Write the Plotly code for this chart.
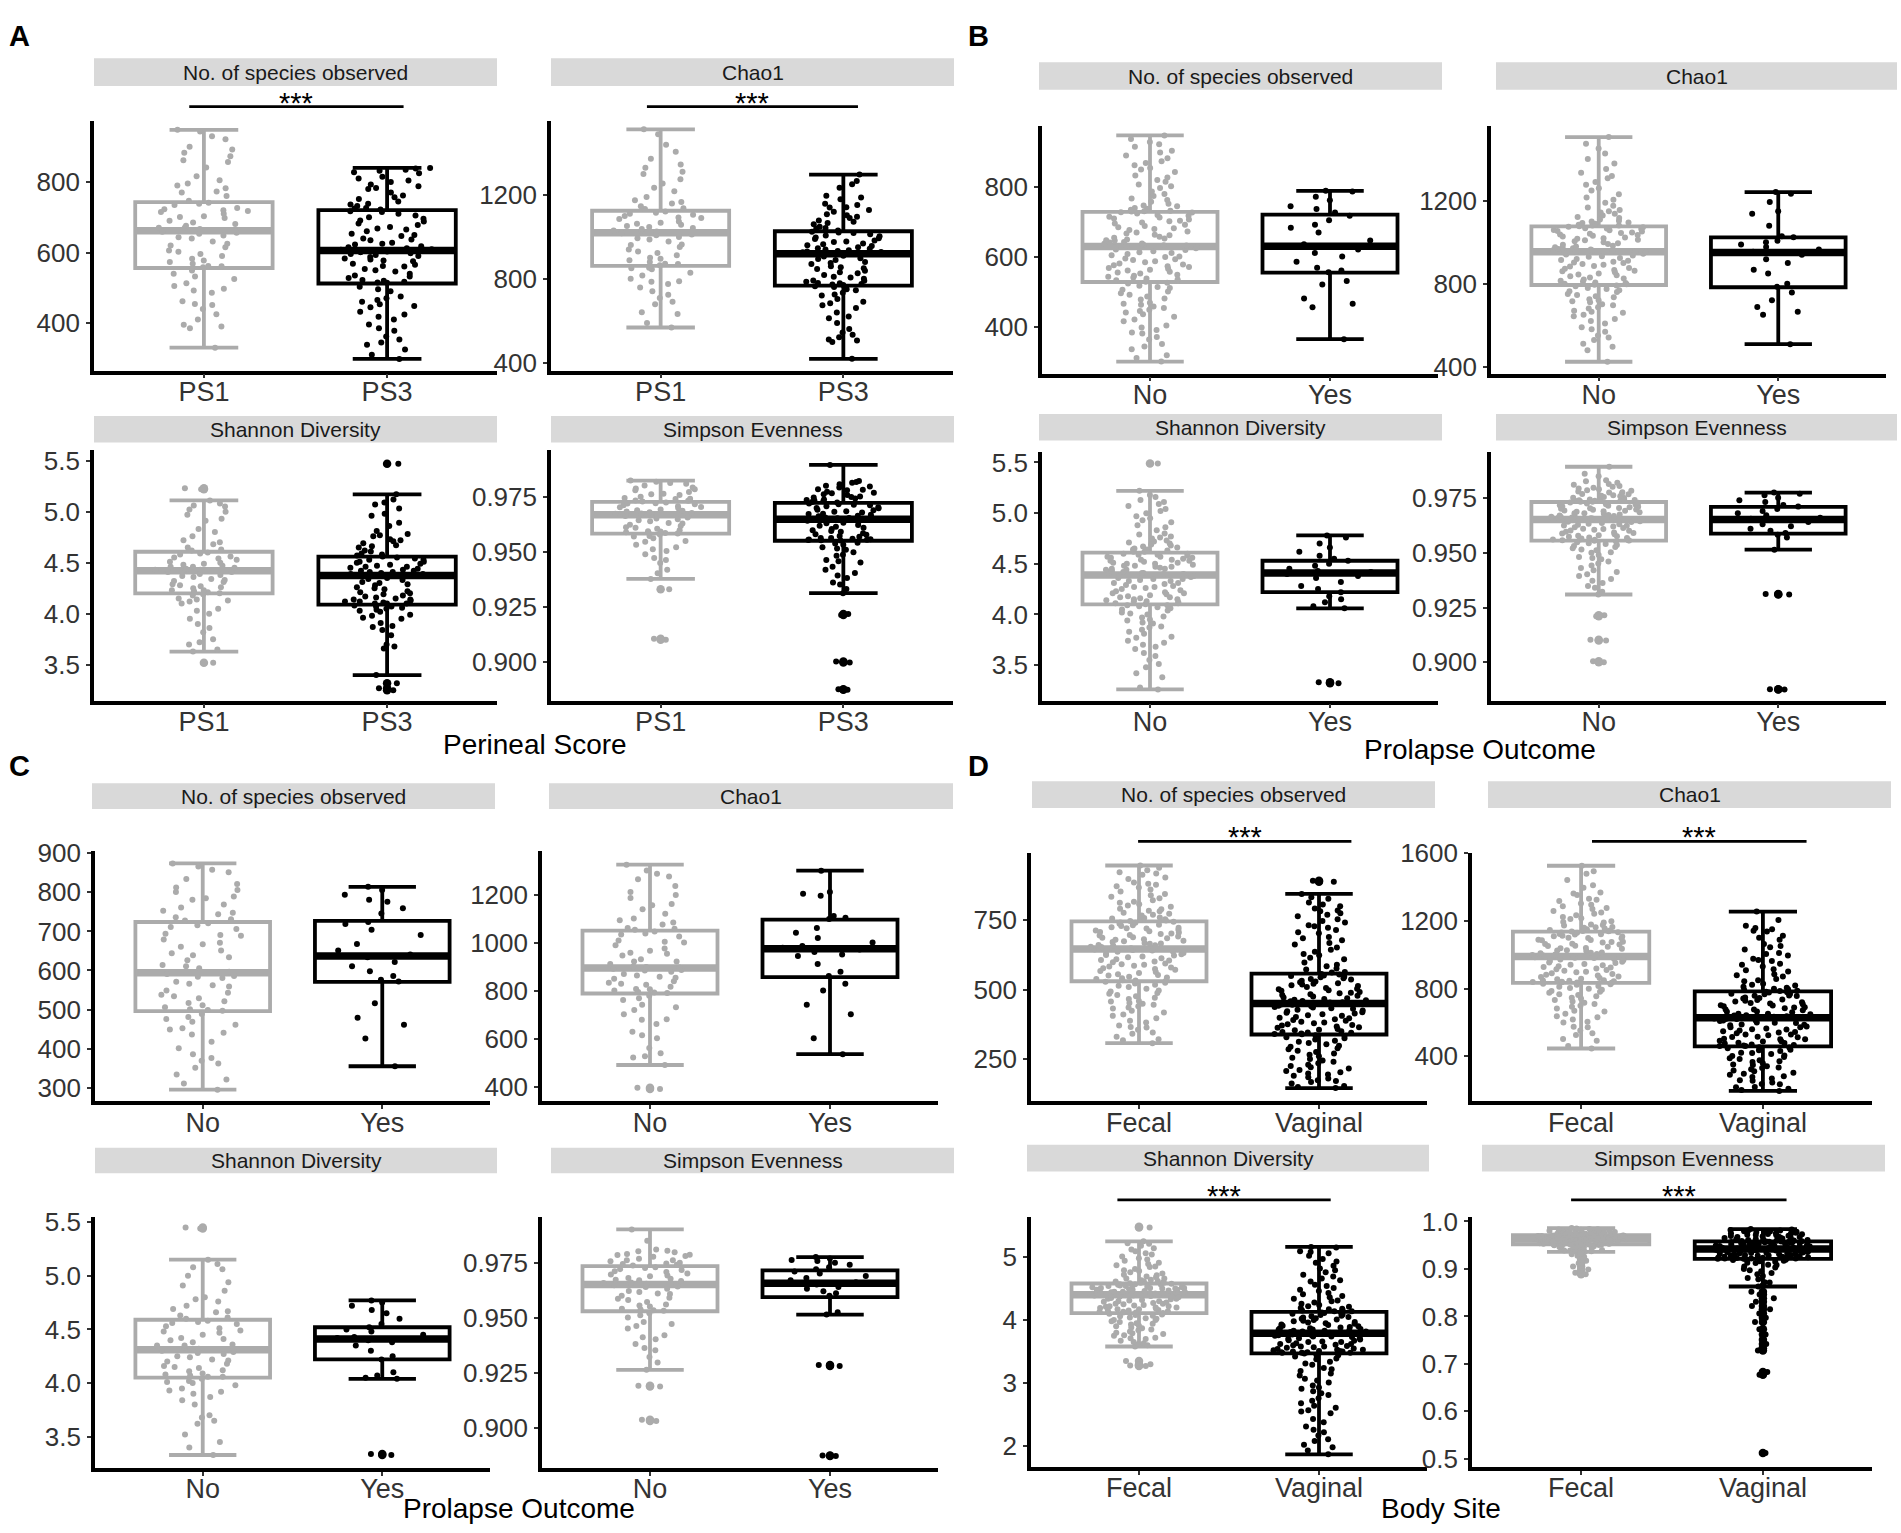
import plotly.graph_objects as go

W, H = 1901, 1533
GRAY = "#ABABAB"
BLACK = "#000000"
FONT = "Liberation Sans, Arial, sans-serif"

# ---------------- A: Perineal Score ----------------
a_groups = ["PS1", "PS3"]

a_obs_ps1 = [949, 944, 931, 922, 893, 884, 874, 863, 842, 806, 797, 791, 783, 774, 761,
             742, 736, 727, 724, 719, 716, 711, 704, 699, 691, 682, 677, 671, 668, 664,
             660, 654, 649, 641, 632, 626, 616, 607, 597, 591, 583, 574, 569, 562, 559,
             550, 541, 526, 514, 506, 493, 487, 463, 455, 441, 426, 396, 391, 386, 331,
             901, 858, 817, 771, 748, 739, 721, 702, 686, 671, 657, 644, 621, 603, 578, 563, 533, 498, 452, 411]
a_obs_ps3 = [841, 839, 836, 833, 829, 816, 811, 801, 794, 789, 781, 771, 763, 753, 746, 739, 733, 727, 723,
             718, 711, 706, 701, 692, 689, 679, 673, 666, 661, 654, 648, 641, 636, 629, 624, 619, 613, 609,
             605, 602, 597, 594, 591, 584, 581, 576, 569, 566, 561, 554, 547, 541, 536, 529, 523, 518, 515,
             504, 491, 476, 466, 461, 454, 446, 433, 419, 411, 397, 379, 363, 354, 346, 326, 311, 299,
             826, 805, 784, 758, 737, 726, 716, 697, 683, 669, 651, 638, 626, 616, 610, 604, 599, 588, 578, 563,
             551, 533, 521, 516, 497, 471, 449, 425, 386, 339]
a_obs_ps1_box = [331, 557, 663, 744, 949]   # lower whisker, q1, median, q3, upper whisker
a_obs_ps3_box = [299, 513, 607, 721, 841]
a_obs_ps1_out = []
a_obs_ps3_out = []

a_chao_ps1 = [1515, 1491, 1441, 1374, 1347, 1331, 1302, 1277, 1256, 1219, 1191, 1168, 1161, 1147, 1134,
              1122, 1116, 1107, 1101, 1091, 1086, 1074, 1069, 1059, 1053, 1044, 1039, 1031, 1027, 1023,
              1018, 1009, 1001, 989, 979, 964, 953, 941, 924, 913, 901, 889, 881, 871, 866,
              854, 846, 829, 816, 801, 789, 776, 759, 741, 709, 691, 679, 641, 589, 568,
              1408, 1312, 1236, 1176, 1138, 1112, 1094, 1064, 1048, 1029, 1012, 994, 962, 931, 897, 873, 851, 786, 725, 633]
a_chao_ps3 = [1299, 1268, 1236, 1197, 1181, 1159, 1153, 1141, 1129, 1121, 1109, 1097, 1091, 1079, 1073, 1061, 1049, 1041, 1032,
              1026, 1019, 1013, 1004, 998, 991, 984, 979, 969, 966, 957, 951, 944, 941, 934, 931, 927, 924, 921,
              916, 907, 899, 891, 881, 871, 861, 856, 847, 839, 827, 819, 807, 801, 791, 786, 779, 776, 771,
              761, 751, 746, 734, 721, 704, 691, 674, 661, 639, 621, 589, 561, 544, 521, 506, 499, 418,
              1252, 1189, 1143, 1104, 1067, 1043, 1022, 1008, 994, 976, 961, 947, 937, 929, 922, 911, 895, 876, 851, 832,
              811, 793, 781, 773, 765, 726, 684, 612, 533, 511]
a_chao_ps1_box = [568, 862, 1021, 1126, 1515]
a_chao_ps3_box = [418, 768, 920, 1028, 1299]
a_chao_ps1_out = []
a_chao_ps3_out = []

a_shan_ps1 = [5.23, 5.22, 5.11, 5.08, 5.05, 5.02, 5.00, 4.97, 4.93, 4.80, 4.76, 4.70, 4.68, 4.65, 4.62,
              4.60, 4.58, 4.56, 4.55, 4.53, 4.51, 4.50, 4.48, 4.47, 4.46, 4.45, 4.44, 4.43, 4.43, 4.42,
              4.41, 4.39, 4.38, 4.36, 4.34, 4.33, 4.31, 4.29, 4.28, 4.26, 4.25, 4.23, 4.22, 4.21, 4.20,
              4.18, 4.15, 4.13, 4.12, 4.10, 4.05, 4.00, 3.95, 3.90, 3.82, 3.75, 3.70, 3.65, 3.63, 3.52,
              5.06, 4.91, 4.83, 4.72, 4.63, 4.59, 4.54, 4.49, 4.46, 4.43, 4.41, 4.37, 4.32, 4.27, 4.23, 4.19, 4.14, 4.03, 3.86, 3.72]
a_shan_ps3 = [5.47, 5.17, 5.12, 5.07, 5.03, 4.96, 4.89, 4.81, 4.78, 4.76, 4.73, 4.72, 4.69, 4.67, 4.65, 4.62, 4.61, 4.58, 4.57,
              4.55, 4.54, 4.53, 4.51, 4.50, 4.49, 4.48, 4.46, 4.46, 4.45, 4.43, 4.42, 4.42, 4.41, 4.40, 4.39, 4.38, 4.38, 4.37,
              4.36, 4.34, 4.31, 4.30, 4.28, 4.25, 4.24, 4.22, 4.20, 4.19, 4.17, 4.16, 4.15, 4.14, 4.13, 4.12, 4.11, 4.10, 4.10,
              4.08, 4.07, 4.06, 4.05, 4.04, 4.02, 3.99, 3.98, 3.95, 3.91, 3.88, 3.84, 3.70, 3.66, 3.40, 3.32, 3.27, 3.25,
              5.09, 4.98, 4.86, 4.77, 4.71, 4.66, 4.59, 4.56, 4.53, 4.51, 4.47, 4.44, 4.41, 4.39, 4.38, 4.35, 4.33, 4.29, 4.26, 4.21,
              4.18, 4.14, 4.12, 4.10, 4.07, 4.03, 3.96, 3.87, 3.79, 3.68]
a_shan_ps1_box = [3.63, 4.20, 4.42, 4.607, 5.11]
a_shan_ps3_box = [3.40, 4.09, 4.375, 4.56, 5.17]
a_shan_ps1_out = [5.23, 5.22, 3.52]
a_shan_ps3_out = [5.47, 3.32, 3.27, 3.25]

a_simp_ps1 = [0.9823, 0.9818, 0.9809, 0.9801, 0.9792, 0.9784, 0.9779, 0.9771, 0.9763, 0.9758, 0.9750, 0.9744, 0.9739, 0.9733, 0.9728,
              0.9724, 0.9720, 0.9716, 0.9711, 0.9707, 0.9702, 0.9697, 0.9692, 0.9688, 0.9683, 0.9679, 0.9676, 0.9672, 0.9669, 0.9667,
              0.9662, 0.9656, 0.9651, 0.9643, 0.9638, 0.9631, 0.9623, 0.9617, 0.9611, 0.9604, 0.9598, 0.9592, 0.9588, 0.9585, 0.9583,
              0.9578, 0.9569, 0.9561, 0.9549, 0.9532, 0.9521, 0.9503, 0.9489, 0.9472, 0.9449, 0.9418, 0.9377, 0.9330, 0.9105, 0.9101,
              0.9812, 0.9787, 0.9761, 0.9741, 0.9731, 0.9719, 0.9703, 0.9686, 0.9674, 0.9663, 0.9647, 0.9628, 0.9609, 0.9593, 0.9586,
              0.9572, 0.9546, 0.9511, 0.9463, 0.9402]
a_simp_ps3 = [0.9894, 0.9821, 0.9813, 0.9806, 0.9799, 0.9792, 0.9784, 0.9779, 0.9772, 0.9768, 0.9761, 0.9757, 0.9751, 0.9746, 0.9742, 0.9737, 0.9733, 0.9729, 0.9724,
              0.9719, 0.9716, 0.9711, 0.9706, 0.9702, 0.9697, 0.9691, 0.9688, 0.9682, 0.9678, 0.9671, 0.9668, 0.9663, 0.9659, 0.9656, 0.9652, 0.9650, 0.9649, 0.9647,
              0.9641, 0.9636, 0.9629, 0.9622, 0.9618, 0.9609, 0.9603, 0.9598, 0.9591, 0.9584, 0.9579, 0.9572, 0.9568, 0.9563, 0.9559, 0.9556, 0.9554, 0.9552, 0.9551,
              0.9541, 0.9532, 0.9521, 0.9509, 0.9498, 0.9482, 0.9463, 0.9451, 0.9432, 0.9404, 0.9381, 0.9352, 0.9312, 0.9218, 0.9213, 0.9002, 0.8998, 0.8876, 0.8874,
              0.9817, 0.9796, 0.9781, 0.9766, 0.9748, 0.9735, 0.9726, 0.9713, 0.9699, 0.9684, 0.9672, 0.9661, 0.9653, 0.9648, 0.9645,
              0.9632, 0.9614, 0.9594, 0.9577, 0.9563, 0.9557, 0.9553, 0.9538, 0.9515, 0.9487, 0.9457, 0.9418, 0.9392, 0.9361, 0.9331]
a_simp_ps1_box = [0.9377, 0.9582, 0.9668, 0.9726, 0.9823]
a_simp_ps3_box = [0.9312, 0.9550, 0.9647, 0.9722, 0.9894]
a_simp_ps1_out = [0.9330, 0.9105, 0.9101]
a_simp_ps3_out = [0.9218, 0.9213, 0.9002, 0.8998, 0.8876, 0.8874]

# ---------------- B: Prolapse Outcome (fecal) ----------------
b_groups = ["No", "Yes"]

b_obs_no = [946, 936, 927, 914, 902, 889, 881, 867, 861, 849, 842, 826, 814, 806, 796, 786, 773, 766, 757, 746, 739, 731,
            726, 723, 717, 714, 709, 706, 701, 695, 691, 684, 681, 676, 672, 666, 663, 657, 654, 649, 646, 641, 637, 633, 631,
            627, 621, 619, 613, 611, 604, 601, 595, 591, 584, 581, 576, 571, 566, 563, 557, 555, 549, 546, 541, 535, 533, 529,
            524, 517, 511, 501, 496, 487, 481, 469, 463, 454, 449, 441, 429, 421, 404, 391, 381, 364, 351, 336, 319, 301,
            921, 897, 872, 853, 832, 819, 801, 779, 762, 751, 744, 737, 734, 730, 729,
            727, 719, 712, 703, 698, 688, 679, 669, 661, 652, 647, 642, 638, 634, 632,
            628, 624, 616, 608, 599, 593, 587, 578, 573, 568, 561, 552, 543, 538, 531,
            526, 514, 506, 492, 478, 466, 458, 445, 436, 416, 398, 384, 371, 344, 311]
b_obs_yes = [788, 786, 771, 761, 744, 736, 726, 717, 704, 691, 683, 669, 646, 636, 628, 621, 611, 601, 586, 569,
             561, 556, 531, 521, 481, 466, 456, 365]
b_obs_no_box = [301, 528, 629, 728, 946]
b_obs_yes_box = [365, 555, 630, 720, 788]
b_obs_no_out = []
b_obs_yes_out = []

b_chao_no = [1510, 1478, 1431, 1382, 1338, 1311, 1279, 1252, 1218, 1192, 1169, 1151, 1139, 1131, 1119, 1111, 1102, 1094, 1091, 1086, 1082, 1079,
             1076, 1069, 1066, 1059, 1056, 1049, 1046, 1039, 1036, 1029, 1024, 1019, 1011, 1002, 997, 989, 985, 977, 973, 966, 963, 959, 957,
             951, 946, 937, 931, 921, 916, 907, 901, 893, 884, 877, 867, 861, 851, 846, 837, 831, 821, 816, 807, 804, 798, 796,
             789, 781, 769, 761, 747, 736, 721, 711, 697, 687, 671, 661, 644, 631, 609, 591, 569, 551, 529, 511, 479, 424,
             1455, 1404, 1356, 1322, 1293, 1263, 1234, 1207, 1178, 1158, 1145, 1124, 1106, 1097, 1083,
             1074, 1068, 1061, 1053, 1043, 1033, 1021, 1014, 1006, 993, 981, 975, 969, 962, 958,
             954, 942, 934, 926, 912, 904, 896, 887, 873, 864, 856, 842, 826, 812, 801,
             792, 776, 765, 752, 741, 726, 716, 702, 681, 666, 651, 621, 581, 541, 497]
b_chao_yes = [1244, 1236, 1196, 1151, 1139, 1081, 1031, 1026, 1009, 1001, 991, 979, 966, 956, 949, 941, 919, 901, 869, 851,
              801, 786, 759, 721, 689, 666, 651, 509]
b_chao_no_box = [424, 795, 956, 1078, 1510]
b_chao_yes_box = [509, 784, 952, 1025, 1244]
b_chao_no_out = []
b_chao_yes_out = []

b_shan_no = [5.49, 5.22, 5.18, 5.13, 5.11, 5.07, 5.04, 5.00, 4.95, 4.91, 4.86, 4.80, 4.77, 4.75, 4.72, 4.70, 4.69, 4.66, 4.65, 4.64, 4.63, 4.62,
             4.60, 4.59, 4.59, 4.57, 4.56, 4.55, 4.54, 4.53, 4.52, 4.51, 4.50, 4.49, 4.48, 4.47, 4.46, 4.45, 4.44, 4.43, 4.42, 4.41, 4.41, 4.40, 4.39,
             4.38, 4.37, 4.35, 4.34, 4.33, 4.31, 4.30, 4.28, 4.27, 4.25, 4.24, 4.22, 4.21, 4.20, 4.18, 4.17, 4.16, 4.15, 4.14, 4.13, 4.12, 4.11, 4.10,
             4.09, 4.08, 4.06, 4.04, 4.02, 4.00, 3.97, 3.94, 3.91, 3.88, 3.85, 3.81, 3.78, 3.74, 3.70, 3.66, 3.62, 3.55, 3.48, 3.38, 3.28, 3.26,
             5.16, 5.09, 5.02, 4.97, 4.93, 4.88, 4.83, 4.79, 4.76, 4.73, 4.71, 4.68, 4.67, 4.64, 4.62,
             4.60, 4.58, 4.57, 4.56, 4.54, 4.53, 4.51, 4.50, 4.48, 4.47, 4.45, 4.44, 4.42, 4.41, 4.40,
             4.38, 4.36, 4.35, 4.33, 4.31, 4.29, 4.27, 4.26, 4.23, 4.21, 4.19, 4.17, 4.15, 4.13, 4.11,
             4.09, 4.07, 4.05, 4.01, 3.98, 3.95, 3.92, 3.87, 3.83, 3.77, 3.72, 3.68, 3.59, 3.51, 3.42]
b_shan_yes = [4.78, 4.76, 4.70, 4.66, 4.62, 4.58, 4.55, 4.53, 4.50, 4.48, 4.45, 4.43, 4.42, 4.41, 4.40, 4.38, 4.36, 4.32,
              4.28, 4.25, 4.22, 4.18, 4.15, 4.12, 4.08, 4.06, 3.33, 3.32]
b_shan_no_box = [3.26, 4.10, 4.39, 4.61, 5.22]
b_shan_yes_box = [4.06, 4.22, 4.41, 4.53, 4.78]
b_shan_no_out = [5.49]
b_shan_yes_out = [3.33, 3.32]

b_simp_no = [0.9894, 0.9851, 0.9832, 0.9821, 0.9812, 0.9803, 0.9798, 0.9791, 0.9787, 0.9781, 0.9776, 0.9771, 0.9768, 0.9762, 0.9759, 0.9752, 0.9749, 0.9746, 0.9742, 0.9739, 0.9737, 0.9734,
             0.9731, 0.9726, 0.9721, 0.9718, 0.9714, 0.9709, 0.9706, 0.9702, 0.9699, 0.9694, 0.9691, 0.9688, 0.9682, 0.9679, 0.9674, 0.9671, 0.9668, 0.9664, 0.9661, 0.9659, 0.9658, 0.9655, 0.9654,
             0.9651, 0.9645, 0.9641, 0.9634, 0.9631, 0.9624, 0.9621, 0.9614, 0.9609, 0.9606, 0.9601, 0.9594, 0.9591, 0.9586, 0.9579, 0.9576, 0.9571, 0.9566, 0.9562, 0.9560, 0.9558, 0.9557, 0.9556,
             0.9549, 0.9541, 0.9532, 0.9521, 0.9512, 0.9501, 0.9482, 0.9471, 0.9452, 0.9431, 0.9413, 0.9402, 0.9381, 0.9362, 0.9341, 0.9310, 0.9215, 0.9210, 0.9103, 0.9100, 0.9005, 0.9000,
             0.9862, 0.9828, 0.9815, 0.9806, 0.9795, 0.9784, 0.9778, 0.9769, 0.9764, 0.9756, 0.9751, 0.9744, 0.9741, 0.9738, 0.9734,
             0.9729, 0.9723, 0.9716, 0.9711, 0.9704, 0.9697, 0.9693, 0.9686, 0.9681, 0.9676, 0.9669, 0.9666, 0.9662, 0.9657, 0.9655,
             0.9648, 0.9643, 0.9637, 0.9629, 0.9626, 0.9617, 0.9611, 0.9603, 0.9597, 0.9589, 0.9581, 0.9574, 0.9568, 0.9561, 0.9558,
             0.9552, 0.9544, 0.9536, 0.9527, 0.9516, 0.9503, 0.9491, 0.9477, 0.9461, 0.9442, 0.9421, 0.9395, 0.9373, 0.9349, 0.9322]
b_simp_yes = [0.9776, 0.9771, 0.9764, 0.9752, 0.9741, 0.9733, 0.9719, 0.9712, 0.9701, 0.9692, 0.9681, 0.9672, 0.9661, 0.9656,
              0.9651, 0.9642, 0.9631, 0.9622, 0.9611, 0.9602, 0.9591, 0.9583, 0.9571, 0.9515, 0.9312, 0.9310, 0.8877, 0.8875]
b_simp_no_box = [0.9310, 0.9556, 0.9653, 0.9733, 0.9894]
b_simp_yes_box = [0.9515, 0.9588, 0.9653, 0.9711, 0.9776]
b_simp_no_out = [0.9215, 0.9210, 0.9103, 0.9100, 0.9005, 0.9000]
b_simp_yes_out = [0.9312, 0.9310, 0.8877, 0.8875]

# ---------------- C: Prolapse Outcome (vaginal) ----------------
c_groups = ["No", "Yes"]

c_obs_no = [874, 866, 851, 834, 812, 806, 801, 789, 781, 769, 761, 753, 744, 736, 728,
            721, 711, 706, 694, 689, 679, 671, 661, 651, 644, 634, 626, 614, 606, 597,
            591, 584, 581, 571, 566, 559, 549, 543, 534, 529, 521, 511, 506, 501, 497,
            489, 481, 469, 461, 449, 441, 436, 401, 386, 376, 369, 351, 334, 321, 295,
            858, 821, 785, 748, 731, 716, 691, 667, 639, 611, 586, 562, 538, 517, 499, 476, 452, 418, 362, 311]
c_obs_yes = [814, 806, 794, 781, 776, 759, 746, 724, 719, 704, 691, 668, 651, 641, 634, 622, 611, 598, 586, 576,
             572, 516, 479, 461, 426, 355]
c_obs_no_box = [295, 496, 594, 724, 874]
c_obs_yes_box = [355, 571, 637, 727, 814]
c_obs_no_out = []
c_obs_yes_out = []

c_chao_no = [1325, 1301, 1276, 1264, 1211, 1199, 1186, 1161, 1139, 1121, 1101, 1084, 1076, 1061, 1054,
             1046, 1034, 1026, 1009, 1001, 989, 976, 966, 954, 946, 931, 921, 911, 901, 896,
             891, 884, 879, 869, 863, 854, 849, 839, 833, 824, 816, 807, 801, 794, 790,
             779, 761, 741, 719, 701, 679, 661, 629, 601, 561, 539, 521, 490, 395, 390,
             1287, 1236, 1156, 1093, 1058, 1038, 1004, 958, 921, 899, 886, 858, 829, 806, 792, 768, 731, 681, 614, 526]
c_chao_yes = [1300, 1211, 1204, 1196, 1111, 1104, 1099, 1061, 1041, 1019, 1001, 986, 979, 971, 961, 951, 944, 911,
              879, 861, 829, 801, 741, 701, 601, 535]
c_chao_no_box = [490, 788, 894, 1050, 1325]
c_chao_yes_box = [535, 856, 975, 1096, 1300]
c_chao_no_out = [395, 390]
c_chao_yes_out = []

c_shan_no = [5.45, 5.44, 5.15, 5.11, 5.06, 5.00, 4.94, 4.86, 4.80, 4.76, 4.72, 4.69, 4.66, 4.63, 4.60,
             4.58, 4.57, 4.55, 4.53, 4.51, 4.49, 4.47, 4.45, 4.42, 4.40, 4.38, 4.36, 4.35, 4.33, 4.32,
             4.30, 4.29, 4.27, 4.25, 4.24, 4.21, 4.20, 4.18, 4.16, 4.14, 4.12, 4.11, 4.08, 4.07, 4.06,
             4.04, 4.02, 4.00, 3.98, 3.95, 3.92, 3.90, 3.87, 3.80, 3.70, 3.65, 3.62, 3.45, 3.40, 3.33,
             5.08, 4.91, 4.78, 4.67, 4.61, 4.56, 4.48, 4.41, 4.35, 4.32, 4.28, 4.22, 4.15, 4.09, 4.06, 4.01, 3.93, 3.84, 3.68, 3.52]
c_shan_yes = [4.77, 4.75, 4.72, 4.68, 4.65, 4.60, 4.55, 4.52, 4.50, 4.48, 4.45, 4.43, 4.42, 4.41, 4.40, 4.38, 4.35, 4.30,
              4.25, 4.22, 4.10, 4.07, 4.05, 4.04, 3.34, 3.33]
c_shan_no_box = [3.33, 4.05, 4.31, 4.59, 5.15]
c_shan_yes_box = [4.04, 4.22, 4.41, 4.52, 4.77]
c_shan_no_out = [5.45, 5.44]
c_shan_yes_out = [3.34, 3.33]

c_simp_no = [0.9903, 0.9812, 0.9803, 0.9799, 0.9791, 0.9788, 0.9782, 0.9778, 0.9769, 0.9762, 0.9758, 0.9751, 0.9748, 0.9742, 0.9738,
             0.9731, 0.9722, 0.9718, 0.9709, 0.9702, 0.9698, 0.9689, 0.9681, 0.9678, 0.9671, 0.9668, 0.9661, 0.9658, 0.9655, 0.9653,
             0.9648, 0.9641, 0.9632, 0.9622, 0.9618, 0.9609, 0.9601, 0.9592, 0.9581, 0.9572, 0.9561, 0.9552, 0.9541, 0.9535, 0.9532,
             0.9521, 0.9502, 0.9481, 0.9472, 0.9451, 0.9421, 0.9402, 0.9381, 0.9352, 0.9321, 0.9263, 0.9187, 0.9190, 0.9030, 0.9035,
             0.9851, 0.9806, 0.9786, 0.9763, 0.9745, 0.9727, 0.9712, 0.9693, 0.9674, 0.9659, 0.9643, 0.9611, 0.9587, 0.9556, 0.9538,
             0.9512, 0.9463, 0.9411, 0.9362, 0.9296]
c_simp_yes = [0.9777, 0.9771, 0.9764, 0.9759, 0.9751, 0.9742, 0.9731, 0.9722, 0.9711, 0.9702, 0.9691, 0.9682, 0.9671, 0.9662,
              0.9652, 0.9641, 0.9632, 0.9621, 0.9612, 0.9601, 0.9525, 0.9515, 0.9280, 0.9285, 0.8870, 0.8872]
c_simp_no_box = [0.9263, 0.9530, 0.9652, 0.9736, 0.9903]
c_simp_yes_box = [0.9515, 0.9594, 0.9658, 0.9716, 0.9777]
c_simp_no_out = [0.9187, 0.9190, 0.9030, 0.9035]
c_simp_yes_out = [0.9280, 0.9285, 0.8870, 0.8872]

# ---------------- D: Body Site ----------------
d_groups = ["Fecal", "Vaginal"]

d_obs_fecal = [945, 928, 921, 912, 902, 884, 880, 871, 866, 852, 838, 833, 820, 811, 806, 797, 790, 783, 781, 772, 768, 759, 755, 751, 746,
               743, 740, 733, 731, 724, 720, 719, 712, 707, 705, 699, 694, 690, 688, 684, 679, 675, 671, 667, 664, 660, 657, 653, 650, 648,
               644, 640, 636, 631, 627, 622, 619, 612, 606, 604, 598, 591, 586, 583, 577, 571, 567, 560, 555, 551, 546, 541, 538, 534, 531,
               528, 522, 514, 509, 497, 488, 485, 476, 466, 459, 452, 449, 440, 432, 418, 411, 397, 388, 371, 364, 356, 342, 331, 322, 308,
               937, 916, 897, 876, 859, 843, 828, 815, 802, 788, 776, 766, 757, 752, 748,
               741, 736, 728, 722, 715, 709, 701, 696, 686, 681, 673, 665, 659, 654, 649,
               642, 637, 629, 624, 616, 609, 601, 594, 589, 579, 574, 563, 552, 543, 533,
               525, 517, 503, 493, 481, 471, 457, 446, 436, 424, 406, 382, 366, 346, 318]
d_obs_vaginal = [890, 887, 843, 831, 812, 799, 791, 784, 774, 763, 752, 741, 731, 722, 714, 702, 689, 677, 667, 651, 636, 623, 609, 597, 584, 572, 561,
                 556, 551, 549, 544, 541, 536, 532, 526, 523, 518, 516, 509, 506, 501, 498, 491, 489, 483, 481, 475, 472, 466, 464, 459, 457, 454, 452, 451,
                 448, 446, 440, 438, 433, 431, 425, 422, 417, 414, 408, 406, 399, 397, 391, 388, 382, 379, 373, 371, 365, 363, 356, 354, 348, 346, 343, 340,
                 336, 329, 326, 317, 313, 304, 299, 290, 286, 276, 271, 261, 256, 246, 241, 231, 226, 217, 212, 204, 199, 191, 186, 175, 169, 154, 147,
                 826, 805, 781, 768, 746, 727, 706, 684, 662, 643, 628, 614, 589, 576, 563,
                 554, 546, 538, 529, 521, 513, 503, 496, 487, 478, 469, 462, 458, 455, 452,
                 447, 442, 436, 428, 419, 412, 402, 394, 385, 376, 368, 359, 351, 345, 341,
                 334, 321, 309, 295, 281, 266, 251, 236, 222, 208, 196, 181, 172, 163, 151]
d_obs_fecal_box = [308, 530, 646, 745, 945]
d_obs_vaginal_box = [147, 339, 450, 557, 843]
d_obs_fecal_out = []
d_obs_vaginal_out = [890, 887]

d_chao_fecal = [1526, 1493, 1442, 1396, 1368, 1353, 1331, 1317, 1303, 1286, 1276, 1259, 1249, 1234, 1223, 1211, 1198, 1191, 1179, 1173, 1164, 1159, 1151, 1143, 1139,
                1133, 1130, 1123, 1119, 1112, 1108, 1100, 1097, 1089, 1085, 1077, 1073, 1065, 1061, 1053, 1048, 1040, 1036, 1027, 1022, 1014, 1009, 1001, 997, 992,
                985, 981, 972, 968, 959, 954, 945, 941, 932, 927, 919, 914, 905, 900, 891, 886, 877, 872, 863, 858, 850, 847, 840, 838, 835,
                828, 822, 811, 804, 793, 786, 775, 767, 755, 746, 733, 723, 709, 698, 682, 669, 651, 637, 617, 599, 575, 553, 525, 491, 446,
                1478, 1411, 1362, 1325, 1296, 1271, 1243, 1216, 1194, 1176, 1163, 1155, 1147, 1141, 1138,
                1131, 1121, 1110, 1099, 1087, 1075, 1063, 1051, 1038, 1025, 1012, 1004, 998, 994, 991,
                983, 975, 963, 951, 938, 924, 910, 896, 882, 868, 855, 848, 843, 839, 836,
                826, 816, 799, 781, 762, 741, 717, 693, 664, 631, 604, 572, 536, 502, 461]
d_chao_vaginal = [1255, 1171, 1158, 1151, 1138, 1113, 1088, 1063, 1044, 1031, 1011, 996, 977, 963, 947, 931, 914, 901, 885, 871, 856, 843, 829, 818, 805, 796, 787,
                  781, 777, 770, 767, 759, 756, 748, 744, 736, 732, 724, 720, 712, 708, 700, 696, 688, 684, 676, 672, 664, 660, 652, 648, 641, 637, 634, 630,
                  623, 620, 612, 608, 600, 596, 588, 584, 576, 572, 564, 560, 552, 548, 540, 536, 528, 524, 516, 512, 504, 500, 492, 488, 480, 475, 466, 461,
                  454, 448, 438, 431, 420, 413, 402, 395, 384, 377, 366, 359, 348, 341, 330, 323, 311, 303, 291, 282, 269, 259, 245, 234, 219, 208, 195,
                  1205, 1142, 1101, 1052, 1004, 969, 941, 908, 879, 849, 823, 811, 799, 791, 786,
                  779, 768, 757, 742, 728, 715, 702, 689, 676, 663, 651, 643, 637, 632, 629,
                  621, 611, 598, 586, 571, 558, 543, 529, 514, 501, 489, 478, 470, 464, 461,
                  452, 436, 421, 404, 389, 371, 352, 334, 316, 297, 277, 256, 236, 217, 201]
d_chao_fecal_box = [446, 834, 990, 1137, 1526]
d_chao_vaginal_box = [195, 459, 627, 784, 1255]
d_chao_fecal_out = []
d_chao_vaginal_out = []

d_shan_fecal = [5.48, 5.47, 5.25, 5.21, 5.18, 5.14, 5.09, 5.06, 5.01, 4.98, 4.94, 4.91, 4.87, 4.85, 4.81, 4.78, 4.76, 4.72, 4.71, 4.68, 4.66, 4.64, 4.62, 4.61, 4.59,
                4.57, 4.57, 4.56, 4.55, 4.54, 4.54, 4.53, 4.52, 4.51, 4.51, 4.50, 4.49, 4.48, 4.48, 4.47, 4.46, 4.45, 4.45, 4.44, 4.43, 4.42, 4.42, 4.41, 4.40, 4.40,
                4.39, 4.38, 4.37, 4.35, 4.34, 4.33, 4.31, 4.30, 4.29, 4.27, 4.26, 4.25, 4.23, 4.22, 4.21, 4.20, 4.19, 4.18, 4.17, 4.16, 4.15, 4.14, 4.13, 4.12, 4.11,
                4.10, 4.08, 4.06, 4.04, 4.02, 4.00, 3.98, 3.95, 3.93, 3.90, 3.88, 3.85, 3.82, 3.80, 3.78, 3.75, 3.72, 3.70, 3.65, 3.62, 3.58, 3.35, 3.30, 3.28, 3.27,
                5.22, 5.12, 5.04, 4.96, 4.89, 4.84, 4.79, 4.74, 4.69, 4.66, 4.63, 4.61, 4.60, 4.59, 4.585,
                4.575, 4.56, 4.55, 4.54, 4.52, 4.51, 4.50, 4.48, 4.47, 4.45, 4.44, 4.43, 4.42, 4.41, 4.405,
                4.39, 4.37, 4.36, 4.34, 4.32, 4.30, 4.28, 4.26, 4.24, 4.22, 4.20, 4.17, 4.15, 4.13, 4.12,
                4.09, 4.07, 4.03, 4.00, 3.97, 3.94, 3.91, 3.87, 3.84, 3.79, 3.76, 3.71, 3.67, 3.63, 3.60]
d_shan_vaginal = [5.16, 5.15, 5.09, 5.06, 5.02, 4.97, 4.91, 4.86, 4.79, 4.76, 4.69, 4.66, 4.61, 4.54, 4.51, 4.46, 4.41, 4.38, 4.34, 4.31, 4.28, 4.24, 4.22, 4.19, 4.17, 4.15, 4.14,
                  4.12, 4.11, 4.09, 4.08, 4.06, 4.05, 4.03, 4.02, 4.00, 3.99, 3.97, 3.96, 3.94, 3.93, 3.91, 3.90, 3.88, 3.87, 3.86, 3.85, 3.84, 3.83, 3.82, 3.82, 3.81, 3.80, 3.80, 3.79,
                  3.78, 3.77, 3.76, 3.75, 3.74, 3.73, 3.71, 3.70, 3.69, 3.67, 3.66, 3.65, 3.63, 3.62, 3.61, 3.59, 3.58, 3.57, 3.55, 3.54, 3.53, 3.52, 3.51, 3.50, 3.49, 3.48, 3.48, 3.47,
                  3.45, 3.42, 3.38, 3.34, 3.29, 3.24, 3.19, 3.12, 3.07, 3.01, 2.96, 2.91, 2.87, 2.81, 2.76, 2.68, 2.61, 2.57, 2.52, 2.43, 2.31, 2.22, 2.17, 2.08, 2.02, 1.93, 1.87,
                  5.08, 4.93, 4.82, 4.72, 4.63, 4.56, 4.48, 4.43, 4.36, 4.30, 4.26, 4.21, 4.18, 4.16, 4.14,
                  4.12, 4.10, 4.07, 4.04, 4.01, 3.98, 3.95, 3.92, 3.89, 3.87, 3.85, 3.83, 3.81, 3.80, 3.795,
                  3.78, 3.76, 3.74, 3.71, 3.68, 3.65, 3.62, 3.60, 3.58, 3.56, 3.53, 3.51, 3.50, 3.49, 3.48,
                  3.44, 3.39, 3.31, 3.22, 3.15, 3.04, 2.93, 2.84, 2.72, 2.64, 2.55, 2.38, 2.26, 2.11, 1.98]
d_shan_fecal_box = [3.58, 4.11, 4.40, 4.58, 5.25]
d_shan_vaginal_box = [1.87, 3.47, 3.79, 4.13, 5.16]
d_shan_fecal_out = [5.48, 5.47, 3.35, 3.30, 3.28, 3.27]
d_shan_vaginal_out = []

d_simp_fecal = [0.986, 0.984, 0.983, 0.982, 0.981, 0.981, 0.980, 0.979, 0.979, 0.978, 0.977, 0.977, 0.976, 0.976, 0.975, 0.975, 0.974, 0.974, 0.973, 0.973, 0.972, 0.972, 0.9715, 0.9712,
                0.9708, 0.9705, 0.9702, 0.9698, 0.9695, 0.9692, 0.9688, 0.9684, 0.9680, 0.9677, 0.9673, 0.9670, 0.9666, 0.9662, 0.9659, 0.9655, 0.9651, 0.9648, 0.9645, 0.9642, 0.9639, 0.9636, 0.9634, 0.9632, 0.9630,
                0.9627, 0.9622, 0.9618, 0.9613, 0.9609, 0.9604, 0.9598, 0.9594, 0.9589, 0.9583, 0.9578, 0.9574, 0.9569, 0.9563, 0.9558, 0.9554, 0.9550, 0.9546, 0.9542, 0.9538, 0.9534, 0.9531, 0.9528, 0.9524, 0.9521,
                0.9516, 0.9508, 0.9499, 0.9490, 0.9480, 0.9468, 0.9455, 0.9440, 0.9426, 0.9410, 0.9390, 0.9372, 0.9361,
                0.931, 0.928, 0.925, 0.921, 0.917, 0.912, 0.905, 0.899, 0.892, 0.889,
                0.985, 0.9835, 0.9826, 0.9812, 0.9803, 0.9794, 0.9786, 0.9777, 0.9765, 0.9752, 0.9741, 0.9733, 0.9724, 0.9718, 0.9712,
                0.9706, 0.9701, 0.9694, 0.9689, 0.9683, 0.9676, 0.9671, 0.9664, 0.9658, 0.9653, 0.9647, 0.9641, 0.9637, 0.9633, 0.9631,
                0.9626, 0.9619, 0.9611, 0.9603, 0.9596, 0.9588, 0.9581, 0.9572, 0.9566, 0.9559, 0.9551, 0.9543, 0.9536, 0.9529, 0.9522,
                0.9513, 0.9502, 0.9492, 0.9478, 0.9464, 0.9449, 0.9432, 0.9418, 0.9401, 0.9386, 0.9368]
d_simp_vaginal = [0.984, 0.982, 0.981, 0.979, 0.978, 0.977, 0.976, 0.975, 0.974, 0.973, 0.972, 0.971, 0.970, 0.969, 0.968, 0.967, 0.966, 0.965, 0.964, 0.963, 0.962, 0.961, 0.961, 0.960, 0.959, 0.959, 0.958,
                  0.9575, 0.9570, 0.9565, 0.9560, 0.9553, 0.9547, 0.9540, 0.9534, 0.9528, 0.9520, 0.9514, 0.9507, 0.9500, 0.9493, 0.9486, 0.9479, 0.9472, 0.9466, 0.9460, 0.9454, 0.9448, 0.9442, 0.9437, 0.9433, 0.9429, 0.9425, 0.9422, 0.9420,
                  0.9415, 0.9410, 0.9403, 0.9396, 0.9388, 0.9380, 0.9372, 0.9364, 0.9356, 0.9347, 0.9338, 0.9329, 0.9320, 0.9311, 0.9302, 0.9293, 0.9284, 0.9275, 0.9266, 0.9257, 0.9248, 0.9240, 0.9233, 0.9227, 0.9221, 0.9217, 0.9213, 0.9210,
                  0.9203, 0.9190, 0.9173, 0.9150, 0.9124, 0.9090, 0.9050, 0.9000, 0.8950, 0.8890, 0.8810, 0.8720, 0.8630,
                  0.852, 0.846, 0.838, 0.831, 0.822, 0.815, 0.806, 0.797, 0.788, 0.773, 0.762, 0.751, 0.742, 0.733, 0.728, 0.683, 0.677, 0.512,
                  0.9832, 0.9811, 0.9796, 0.9782, 0.9771, 0.9754, 0.9738, 0.9717, 0.9693, 0.9672, 0.9651, 0.9632, 0.9611, 0.9596, 0.9584,
                  0.9572, 0.9561, 0.9549, 0.9537, 0.9523, 0.9509, 0.9496, 0.9483, 0.9469, 0.9457, 0.9446, 0.9437, 0.9431, 0.9426, 0.9421,
                  0.9413, 0.9401, 0.9386, 0.9371, 0.9357, 0.9342, 0.9326, 0.9309, 0.9293, 0.9276, 0.9259, 0.9243, 0.9231, 0.9221, 0.9214,
                  0.9195, 0.9163, 0.9128, 0.9082, 0.9031, 0.8974, 0.8912, 0.8851, 0.8783, 0.8716, 0.8657]
d_simp_fecal_box = [0.936, 0.952, 0.963, 0.971, 0.986]
d_simp_vaginal_box = [0.863, 0.921, 0.942, 0.958, 0.984]
d_simp_fecal_out = [0.931, 0.928, 0.925, 0.921, 0.917, 0.912, 0.905, 0.899, 0.892, 0.889]
d_simp_vaginal_out = [0.852, 0.846, 0.838, 0.831, 0.822, 0.815, 0.806, 0.797, 0.788, 0.773, 0.762,
                      0.751, 0.742, 0.733, 0.728, 0.683, 0.677, 0.512]

# ---------------- axis ticks ----------------
ticks_obs_a = [400, 600, 800]
ticks_chao_a = [400, 800, 1200]
ticks_shan = [3.5, 4.0, 4.5, 5.0, 5.5]
ticks_simp = [0.900, 0.925, 0.950, 0.975]
ticks_obs_c = [300, 400, 500, 600, 700, 800, 900]
ticks_chao_c = [400, 600, 800, 1000, 1200]
ticks_obs_d = [250, 500, 750]
ticks_chao_d = [400, 800, 1200, 1600]
ticks_shan_d = [2, 3, 4, 5]
ticks_simp_d = [0.5, 0.6, 0.7, 0.8, 0.9, 1.0]

strip_titles = ["No. of species observed", "Chao1", "Shannon Diversity", "Simpson Evenness"]

# pixel boxes: plot (x0, x1, y0, y1), strip (x0, x1, y0, y1)
subplots = [
    # panel A
    dict(groups=a_groups, pts=(a_obs_ps1, a_obs_ps3), box=(a_obs_ps1_box, a_obs_ps3_box), out=(a_obs_ps1_out, a_obs_ps3_out),
         rng=[266, 973], ticks=ticks_obs_a, fmt="{:g}", plot=(94, 497, 108, 361), strip=(94, 497, 44, 72), title=0, sig=(-0.08, 1.09, 93)),
    dict(groups=a_groups, pts=(a_chao_ps1, a_chao_ps3), box=(a_chao_ps1_box, a_chao_ps3_box), out=(a_chao_ps1_out, a_chao_ps3_out),
         rng=[362, 1553], ticks=ticks_chao_a, fmt="{:g}", plot=(551, 953, 108, 361), strip=(551, 954, 44, 72), title=1, sig=(-0.075, 1.08, 93)),
    dict(groups=a_groups, pts=(a_shan_ps1, a_shan_ps3), box=(a_shan_ps1_box, a_shan_ps3_box), out=(a_shan_ps1_out, a_shan_ps3_out),
         rng=[3.15, 5.6], ticks=ticks_shan, fmt="{:.1f}", plot=(94, 497, 442, 696), strip=(94, 497, 407, 434), title=2, sig=None),
    dict(groups=a_groups, pts=(a_simp_ps1, a_simp_ps3), box=(a_simp_ps1_box, a_simp_ps3_box), out=(a_simp_ps1_out, a_simp_ps3_out),
         rng=[0.8825, 0.996], ticks=ticks_simp, fmt="{:.3f}", plot=(551, 953, 442, 696), strip=(551, 954, 407, 434), title=3, sig=None),
    # panel B
    dict(groups=b_groups, pts=(b_obs_no, b_obs_yes), box=(b_obs_no_box, b_obs_yes_box), out=(b_obs_no_out, b_obs_yes_out),
         rng=[267, 972], ticks=ticks_obs_a, fmt="{:g}", plot=(1042, 1438, 113, 364), strip=(1039, 1442, 48, 76), title=0, sig=None),
    dict(groups=b_groups, pts=(b_chao_no, b_chao_yes), box=(b_chao_no_box, b_chao_yes_box), out=(b_chao_no_out, b_chao_yes_out),
         rng=[367, 1562], ticks=ticks_chao_a, fmt="{:g}", plot=(1491, 1886, 113, 364), strip=(1496, 1897, 48, 76), title=1, sig=None),
    dict(groups=b_groups, pts=(b_shan_no, b_shan_yes), box=(b_shan_no_box, b_shan_yes_box), out=(b_shan_no_out, b_shan_yes_out),
         rng=[3.15, 5.6], ticks=ticks_shan, fmt="{:.1f}", plot=(1042, 1438, 444, 696), strip=(1039, 1442, 405, 432), title=2, sig=None),
    dict(groups=b_groups, pts=(b_simp_no, b_simp_yes), box=(b_simp_no_box, b_simp_yes_box), out=(b_simp_no_out, b_simp_yes_out),
         rng=[0.8825, 0.996], ticks=ticks_simp, fmt="{:.3f}", plot=(1491, 1886, 444, 696), strip=(1496, 1897, 405, 432), title=3, sig=None),
    # panel C
    dict(groups=c_groups, pts=(c_obs_no, c_obs_yes), box=(c_obs_no_box, c_obs_yes_box), out=(c_obs_no_out, c_obs_yes_out),
         rng=[265, 905], ticks=ticks_obs_c, fmt="{:g}", plot=(95, 490, 849, 1103), strip=(92, 495, 780, 806), title=0, sig=None),
    dict(groups=c_groups, pts=(c_chao_no, c_chao_yes), box=(c_chao_no_box, c_chao_yes_box), out=(c_chao_no_out, c_chao_yes_out),
         rng=[338, 1381], ticks=ticks_chao_c, fmt="{:g}", plot=(542, 938, 849, 1103), strip=(549, 953, 780, 806), title=1, sig=None),
    dict(groups=c_groups, pts=(c_shan_no, c_shan_yes), box=(c_shan_no_box, c_shan_yes_box), out=(c_shan_no_out, c_shan_yes_out),
         rng=[3.21, 5.55], ticks=ticks_shan, fmt="{:.1f}", plot=(95, 490, 1220, 1475), strip=(95, 497, 1150, 1176), title=2, sig=None),
    dict(groups=c_groups, pts=(c_simp_no, c_simp_yes), box=(c_simp_no_box, c_simp_yes_box), out=(c_simp_no_out, c_simp_yes_out),
         rng=[0.8816, 0.9961], ticks=ticks_simp, fmt="{:.3f}", plot=(542, 938, 1220, 1475), strip=(551, 954, 1150, 1176), title=3, sig=None),
    # panel D
    dict(groups=d_groups, pts=(d_obs_fecal, d_obs_vaginal), box=(d_obs_fecal_box, d_obs_vaginal_box), out=(d_obs_fecal_out, d_obs_vaginal_out),
         rng=[99, 989], ticks=ticks_obs_d, fmt="{:g}", plot=(1031, 1427, 851, 1103), strip=(1032, 1435, 778, 805), title=0, sig=(-0.005, 1.18, 839)),
    dict(groups=d_groups, pts=(d_chao_fecal, d_chao_vaginal), box=(d_chao_fecal_box, d_chao_vaginal_box), out=(d_chao_fecal_out, d_chao_vaginal_out),
         rng=[133, 1600], ticks=ticks_chao_d, fmt="{:g}", plot=(1472, 1872, 851, 1103), strip=(1488, 1891, 778, 805), title=1, sig=(0.06, 1.24, 839)),
    dict(groups=d_groups, pts=(d_shan_fecal, d_shan_vaginal), box=(d_shan_fecal_box, d_shan_vaginal_box), out=(d_shan_fecal_out, d_shan_vaginal_out),
         rng=[1.67, 5.64], ticks=ticks_shan_d, fmt="{:g}", plot=(1031, 1427, 1220, 1474), strip=(1027, 1429, 1147, 1174), title=2, sig=(-0.12, 1.065, 1203)),
    dict(groups=d_groups, pts=(d_simp_fecal, d_simp_vaginal), box=(d_simp_fecal_box, d_simp_vaginal_box), out=(d_simp_fecal_out, d_simp_vaginal_out),
         rng=[0.483, 1.01], ticks=ticks_simp_d, fmt="{:.1f}", plot=(1472, 1872, 1220, 1474), strip=(1482, 1885, 1147, 1174), title=3, sig=(-0.055, 1.13, 1203)),
]

panel_letters = [("A", 19, 21), ("B", 979, 21), ("C", 19, 762), ("D", 979, 762)]
x_titles = [("Perineal Score", 535, 741), ("Prolapse Outcome", 1480, 746),
            ("Prolapse Outcome", 519, 1516), ("Body Site", 1441, 1516)]


def px_x(px):
    return px / W


def px_y(py):
    return 1 - py / H


fig = go.Figure()
shapes = []
annotations = []
colors = [GRAY, BLACK]

for k, sp in enumerate(subplots, start=1):
    xa, ya = f"x{k}", f"y{k}"
    for j, g in enumerate(sp["groups"]):
        lo, q1, med, q3, hi = sp["box"][j]
        fig.add_trace(go.Box(
            x=[g], q1=[q1], median=[med], q3=[q3], lowerfence=[lo], upperfence=[hi],
            width=0.75, boxpoints=False, fillcolor="white",
            line=dict(color=colors[j], width=3.8),
            xaxis=xa, yaxis=ya, hoverinfo="skip", showlegend=False))
        # thicker median bar drawn as a flat box
        fig.add_trace(go.Box(
            x=[g], q1=[med], median=[med], q3=[med], lowerfence=[med], upperfence=[med],
            width=0.75, boxpoints=False, fillcolor="rgba(0,0,0,0)",
            line=dict(color=colors[j], width=7.5),
            xaxis=xa, yaxis=ya, hoverinfo="skip", showlegend=False))
    for j, g in enumerate(sp["groups"]):
        pts = sp["pts"][j]
        fig.add_trace(go.Box(
            x=[g] * len(pts), y=pts, boxpoints="all", jitter=0.72, pointpos=0,
            width=0.75, fillcolor="rgba(0,0,0,0)",
            line=dict(color="rgba(0,0,0,0)", width=0),
            marker=dict(color=colors[j], size=6),
            xaxis=xa, yaxis=ya, hoverinfo="skip", showlegend=False))
        out = sp["out"][j]
        if out:
            fig.add_trace(go.Scatter(
                x=[g] * len(out), y=out, mode="markers",
                marker=dict(color=colors[j], size=8.5),
                xaxis=xa, yaxis=ya, hoverinfo="skip", showlegend=False))

    x0, x1, y0, y1 = sp["plot"]
    axis_common = dict(showline=True, linecolor=BLACK, linewidth=3.6, showgrid=False, zeroline=False,
                       ticks="outside", ticklen=4, tickwidth=1.5, tickcolor="#333333")
    fig.update_layout(**{
        f"xaxis{k}": dict(domain=[px_x(x0), px_x(x1)], anchor=ya, type="category",
                          categoryorder="array", categoryarray=sp["groups"], range=[-0.6, 1.6],
                          tickfont=dict(size=27, color="#333333", family=FONT), ticklabelstandoff=-10,
                          **axis_common),
        f"yaxis{k}": dict(domain=[px_y(y1), px_y(y0)], anchor=xa, range=sp["rng"],
                          tickvals=sp["ticks"], ticktext=[sp["fmt"].format(t) for t in sp["ticks"]],
                          tickfont=dict(size=26, color="#333333", family=FONT), ticklabelstandoff=1,
                          **axis_common),
    })

    sx0, sx1, sy0, sy1 = sp["strip"]
    shapes.append(dict(type="rect", xref="paper", yref="paper", x0=px_x(sx0), x1=px_x(sx1),
                       y0=px_y(sy1), y1=px_y(sy0), fillcolor="#D9D9D9", line=dict(width=0), layer="below"))
    annotations.append(dict(text=strip_titles[sp["title"]], xref="paper", yref="paper",
                            x=px_x((sx0 + sx1) / 2), y=px_y((sy0 + sy1) / 2), showarrow=False,
                            xanchor="center", yanchor="middle", font=dict(size=21, color="#1A1A1A", family=FONT)))
    if sp["sig"]:
        c0, c1, by = sp["sig"]
        shapes.append(dict(type="line", xref=xa, yref="paper", x0=c0, x1=c1, y0=px_y(by), y1=px_y(by),
                           line=dict(color=BLACK, width=2.8)))
        annotations.append(dict(text="***", xref=xa, yref="paper", x=(c0 + c1) / 2, y=px_y(by - 4),
                                showarrow=False, xanchor="center", yanchor="middle",
                                font=dict(size=29, color=BLACK, family=FONT)))

for letter, lx, ly in panel_letters:
    annotations.append(dict(text=f"<b>{letter}</b>", xref="paper", yref="paper", x=px_x(lx), y=px_y(ly),
                            showarrow=False, xanchor="center", yanchor="middle",
                            font=dict(size=29, color=BLACK, family=FONT)))
for txt, tx, ty in x_titles:
    annotations.append(dict(text=txt, xref="paper", yref="paper", x=px_x(tx), y=px_y(ty),
                            showarrow=False, xanchor="center", yanchor="middle",
                            font=dict(size=28, color=BLACK, family=FONT)))

fig.update_layout(
    width=W, height=H,
    margin=dict(l=0, r=0, t=0, b=0),
    paper_bgcolor="white", plot_bgcolor="white",
    boxmode="overlay", showlegend=False,
    font=dict(family=FONT),
    shapes=shapes, annotations=annotations,
)

fig.write_html("out.html", config={"displayModeBar": False},
               post_script="document.body.style.margin='0';")
